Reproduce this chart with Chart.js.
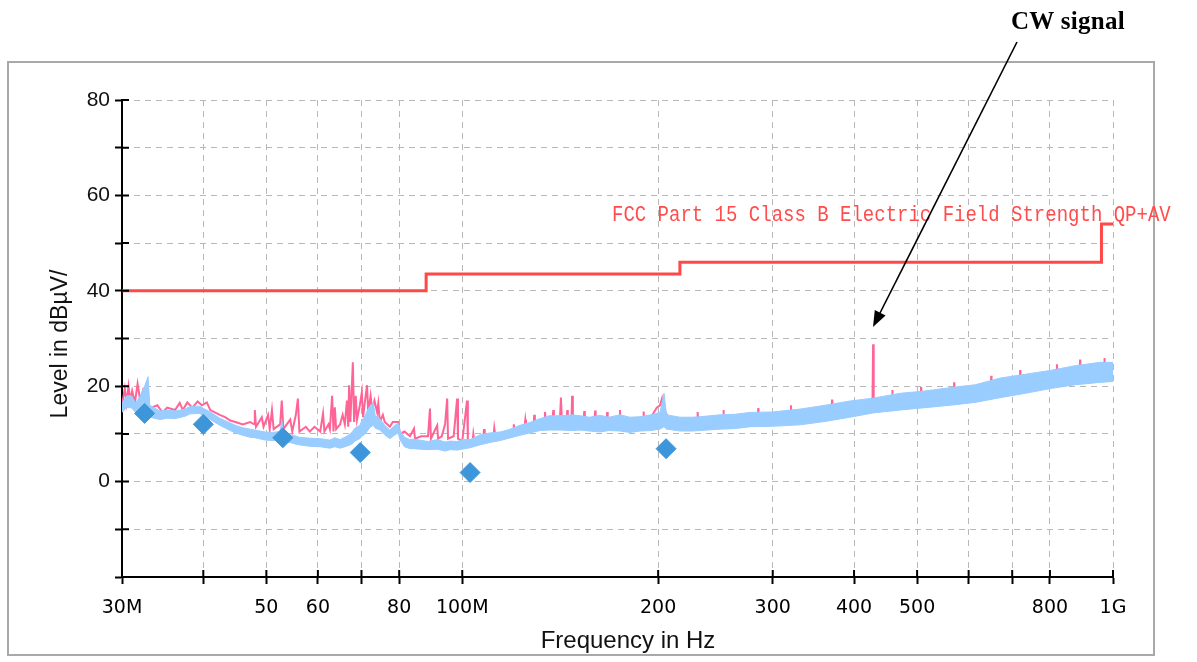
<!DOCTYPE html>
<html>
<head>
<meta charset="utf-8">
<title>Radiated emission scan</title>
<script src="https://cdn.jsdelivr.net/npm/chart.js@4.4.1/dist/chart.umd.min.js"></script>
<style>
  html, body { margin: 0; padding: 0; background: #fff; }
  #wrap { position: relative; width: 1197px; height: 662px; overflow: hidden; }
  #frame { position: absolute; left: 7px; top: 61px; width: 1144px; height: 591px; border: 2px solid #a9a9a9; }
  #scan { position: absolute; left: 0; top: 0; }
  #limitLabel { position: absolute; left: 612px; top: 203px; font: 19px "Liberation Mono", monospace; color: #ff4c4c; white-space: nowrap; transform: scaleY(1.15); transform-origin: left top; }
  #cwLabel { position: absolute; left: 1011px; top: 8px; font: bold 25px "Liberation Serif", serif; letter-spacing: 0.3px; line-height: 25px; color: #000; white-space: nowrap; }
  #arrow { position: absolute; left: 0; top: 0; }
</style>
</head>
<body>
<div id="wrap">
  <div id="frame"></div>
  <canvas id="scan" width="1197" height="662"></canvas>
  <div id="limitLabel">FCC Part 15 Class B Electric Field Strength QP+AV</div>
  <div id="cwLabel">CW signal</div>
  <svg id="arrow" width="1197" height="662">
    <line x1="1017" y1="42" x2="880" y2="313" stroke="#000" stroke-width="1.6"/>
    <polygon points="873,327 885.6,315.4 874.8,310" fill="#000"/>
  </svg>
</div>
<script>
// axis ticks
const xTickValues = [30, 40, 50, 60, 70, 80, 100, 200, 300, 400, 500, 600, 700, 800, 1000];
const xTickLabels = ['30M', '', '50', '60', '', '80', '100M', '200', '300', '400', '500', '', '', '800', '1G'];
const yTickValues = [-20, -10, 0, 10, 20, 30, 40, 50, 60, 70, 80];
const yTickLabels = [0, 20, 40, 60, 80];
const xTitle = 'Frequency in Hz';
const yTitle = 'Level in dBµV/';

// FCC Part 15 class B limit (MHz / dBuV)
const limitFreq = [30, 88, 216, 960, 1000];
const limitLevel = [40, 43.5, 46, 54, 54];

// peak trace (pink): [MHz, dBuV]
const pinkPeak = [
  [30,16],[30.3,19.5],[30.5,16.5],[30.7,20],[30.9,17],[31.1,19],[31.4,16.5],[31.7,20.5],[32,17],[32.3,19],
  [32.6,16],[33.3,15.5],[34,16],[34.6,14.5],[35.2,15.5],[36.2,15],[36.8,16.5],[37.2,15],[37.8,16.6],[38.5,15.5],
  [39.2,16.8],[39.8,16],[40.5,16.6],[41,15],[42.4,14],[43.2,13.5],[44,12.8],[44.8,12.5],[46,12],[47.2,12.5],
  [47.9,12],[48,15],[48.2,11.5],[49.2,13.5],[49.5,11.5],[50.3,14],[50.6,11],[51,15],[51.3,11],[52.5,12],
  [52.8,17],[53.1,11],[54.4,13],[54.8,10.5],[55.5,14],[55.9,17.4],[56.2,10.5],[57.5,11.5],[58.3,10.5],[59.3,11.5],
  [60.5,10.5],[61.1,14.3],[61.4,10.5],[62.3,12],[62.6,11],[63.1,18],[63.4,10.5],[63.7,15.6],[64,11],[64.9,12],
  [65.5,14],[66,12],[66.5,17],[66.8,11.5],[67,20.2],[67.3,12.5],[67.9,25],[68.2,12.5],[68.6,18],[68.9,13],
  [69.6,16],[70.1,18.7],[70.4,13.5],[70.9,17],[71.4,20.2],[71.7,14.5],[72.3,18],[72.7,15],[73.3,17],[74,14.5],
  [74.3,16.4],[74.7,12.5],[75.5,14],[76,12.5],[77.4,11.5],[78.2,12.5],[79.7,12.5],[80.2,10],[81.5,10.5],[83.1,9.5],
  [84.3,11.1],[84.6,9],[86.5,9.5],[88.6,9.5],[89.2,15.3],[89.5,9],[91.5,11.8],[91.8,9],[93,9.5],[94.1,12],
  [94.8,17.4],[95.1,9],[97,9.5],[98.2,17.4],[98.5,9],
  [100,8.5],[101.7,17],[102,8.5],[103.8,8.8],[104,10],[104.3,8.8],[106.5,9.3],[107.8,9.6],[108,11],[108.3,9.6],
  [110.3,9.8],[111.8,10],[112,11.2],[112.3,10],[114.3,10],[118,10.4],[119.7,10.8],[120,12],[120.3,10.9],[122.7,11.3],
  [124.7,11.7],[125,13],[125.3,11.8],[127,11.9],[128.8,12.3],[129,14],[129.3,12.4],[131.7,12.7],[133.7,13.1],[134,14.6],
  [134.3,13.2],[136,13.3],[137.7,13.3],[138,15],[138.3,13.3],[141.3,13.3],[141.8,17.6],[142.2,13.3],[144.7,13.4],[145,15],
  [145.3,13.4],[147.2,13.5],[147.5,18],[147.9,13.5],[151.7,13.3],[153.7,13.2],[154,14.8],[154.3,13.2],[157,13],[159.7,13.1],
  [160,14.9],[160.3,13.2],[162.8,13.4],[166.7,13.2],[167,14.6],[167.3,13.1],[171.7,13.2],[174.4,13.4],[174.7,15],[175,13.4],
  [178,13.3],[181,13],[187.6,13.1],[189.7,13.2],[190,14.7],[190.3,13.2],[195,13.5],[199,15.5],[201.3,16],[202.7,17.4],
  [203.5,15.5],[207,13.6],
  [212,13.2],[216.1,13],[225.5,13],[229.7,13.1],[230,14.6],[230.3,13.1],[249,13.4],[251.7,13.5],[252,15],[252.3,13.5],
  [262,13.5],[276.8,13.9],[284.7,14],[285,15.4],[285.3,14],[300,14],[315,14.4],[319.6,14.6],[320,16],[320.4,14.6],
  [345,15],[360.9,15.4],[369.6,15.7],[370,17.2],[370.4,15.7],[394.5,16.3],[410,16.6],[427,16.9],[427.9,28.8],[428.8,16.9],
  [450,17.5],[457.5,17.7],[458,19.2],[458.5,17.7],[470.6,17.9],[500,18.2],[506.5,18.3],[507,19.8],[507.5,18.3],[540,18.6],
  [561.9,19.1],[569.4,19.2],[570,20.8],[570.6,19.2],[613.9,19.7],[640,20.5],[649.3,20.8],[650,22.2],[650.7,20.9],[700,21.5],
  [719.3,21.8],[720,23.4],[720.7,21.8],[765,22.3],[800.8,22.7],[819.2,22.9],[820,24.6],[820.8,23],[874.6,23.7],[889.1,23.8],
  [890,25.6],[890.9,23.9],[955.3,24.4],[969,24.4],[970,25.9],[971,24.4],[1000,24.4]
];

// average trace (light blue) as a band: upper / lower edge
const blueFreq = [
  30, 30.5, 31, 31.5, 32, 32.5, 32.9, 33.1, 34.3, 35.2,
  36.2, 37.5, 38.2, 39.5, 40.2, 41, 42.4, 44, 44.8, 46,
  47.2, 48, 49.8, 51, 52.5, 52.8, 53.2, 54.4, 55.3, 56.2,
  58.3, 60.5, 62.6, 63.7, 64.9, 66, 67, 67.9, 68.4, 69.6,
  70.1, 70.9, 71.4, 72.1, 73, 73.5, 74.7, 76, 77.4, 78.8,
  79.7, 80.2, 81.5, 83.1, 84.3, 86, 88.6, 91.5, 94.1, 95.8,
  98.2, 100, 102.8, 106.5, 110.3, 114.3, 118, 122.7, 127, 131.7,
  136, 141.3, 147.5, 151.7, 157, 162.8, 168, 174.7, 181, 187.6,
  195, 201.3, 204.2, 206, 216.1, 225.5, 232, 249, 262, 276.8,
  300, 330.4, 360.9, 394.5, 427.9, 470.6, 514.2, 561.9, 613.9, 670.8,
  732.9, 800.8, 874.6, 955.3, 1000
];
const blueHi = [
  16.5, 18, 18, 16.5, 18, 20, 22, 16, 14.8, 15,
  14.8, 15.2, 15.8, 15.8, 15.2, 14.6, 13.3, 12.3, 11.8, 11.3,
  11, 10.8, 10.4, 10.3, 10.5, 12.8, 10.3, 9.8, 9.6, 9.3,
  9.1, 9, 8.7, 9.2, 8.8, 9.3, 9.8, 10.6, 11.2, 11.8,
  12.8, 13.8, 14.8, 15.8, 16.6, 13.8, 13.2, 11.8, 10.8, 11.8,
  12.3, 10.8, 9.3, 8.8, 8.9, 8.7, 8.4, 8.8, 8.3, 8.5,
  8.4, 8.8, 8.8, 9.8, 10.2, 10.4, 10.9, 11.8, 12.4, 13.2,
  13.8, 13.8, 14, 13.8, 13.5, 13.9, 13.5, 14, 13.5, 13.6,
  14, 14.5, 18.5, 14, 13.5, 13.5, 13.6, 14, 14.1, 14.5,
  14.6, 15.2, 16, 16.9, 17.5, 18.5, 19, 19.7, 20.3, 21.7,
  22.5, 23.3, 24.3, 25, 25
];
const blueLo = [
  14.5, 15.5, 15.5, 14.5, 14.5, 15, 14.5, 13.5, 13, 13.3,
  13.2, 13.7, 14.2, 14.3, 13.5, 13, 11.8, 10.7, 10.2, 9.7,
  9.3, 9.2, 8.7, 8.6, 8.7, 8.7, 8.5, 8.2, 7.9, 7.7,
  7.4, 7.3, 7, 7.3, 7, 7.3, 7.6, 8, 8.5, 9,
  9.5, 10, 10.5, 11.3, 11.8, 11.2, 10.8, 9.8, 9, 9.8,
  10.2, 8.8, 7.3, 6.9, 6.9, 6.8, 6.7, 6.8, 6.4, 6.7,
  6.6, 6.8, 7.1, 7.7, 8.2, 8.6, 9.1, 9.7, 10.2, 10.7,
  10.8, 10.8, 10.7, 10.8, 10.6, 10.4, 10.7, 10.6, 10.3, 10.6,
  10.7, 11, 11.5, 11, 10.6, 10.6, 10.7, 11, 11.1, 11.5,
  11.6, 11.9, 12.6, 13.5, 14.4, 15, 15.5, 16, 16.6, 17.6,
  18.5, 19.5, 20.3, 20.8, 21
];

// quasi-peak final measurements (diamonds)
const qpFreq = [32.5, 40.0, 53.0, 69.7, 102.8, 205.7];
const qpLevel = [14.3, 12.0, 9.2, 6.1, 1.9, 6.9];

const toXY = (xs, ys) => xs.map((x, i) => ({ x: x, y: ys[i] }));

// short tick marks on the inside of both axes + axis titles
const axisExtras = {
  id: 'axisExtras',
  afterDatasetsDraw(chart) {
    const { ctx, chartArea, scales } = chart;
    ctx.save();
    ctx.strokeStyle = '#000';
    ctx.lineWidth = 2;
    ctx.beginPath();
    yTickValues.forEach(v => {
      const py = scales.y.getPixelForValue(v);
      ctx.moveTo(chartArea.left, py);
      ctx.lineTo(chartArea.left + 7, py);
    });
    xTickValues.forEach(v => {
      const px = scales.x.getPixelForValue(v);
      ctx.moveTo(px, chartArea.bottom);
      ctx.lineTo(px, chartArea.bottom - 7);
    });
    ctx.stroke();

    ctx.fillStyle = '#111';
    ctx.textAlign = 'center';
    ctx.textBaseline = 'middle';
    ctx.font = '24px "Liberation Sans"';
    ctx.fillText(xTitle, chartArea.left + 506, chartArea.bottom + 64);
    ctx.translate(61, chartArea.top + 244);
    ctx.rotate(-Math.PI / 2);
    ctx.font = '23px "Liberation Sans"';
    ctx.fillText(yTitle, 0, 0);
    ctx.restore();
  }
};

new Chart(document.getElementById('scan'), {
  type: 'line',
  data: {
    datasets: [
      {
        label: 'QP',
        type: 'scatter',
        data: toXY(qpFreq, qpLevel),
        pointStyle: 'rectRot',
        pointRadius: 10,
        backgroundColor: '#3d96da',
        borderColor: '#3d96da',
        borderWidth: 1,
        order: 0
      },
      {
        label: 'Limit',
        data: toXY(limitFreq, limitLevel),
        stepped: 'before',
        borderColor: '#ff4848',
        borderWidth: 3,
        pointRadius: 0,
        fill: false,
        order: 1
      },
      {
        label: 'Average max',
        data: toXY(blueFreq, blueHi),
        borderColor: '#99ccff',
        backgroundColor: '#99ccff',
        borderWidth: 1,
        pointRadius: 0,
        fill: '+1',
        order: 2
      },
      {
        label: 'Average min',
        data: toXY(blueFreq, blueLo),
        borderColor: '#99ccff',
        borderWidth: 1,
        pointRadius: 0,
        fill: false,
        order: 2
      },
      {
        label: 'Peak',
        data: pinkPeak.map(p => ({ x: p[0], y: p[1] })),
        borderColor: '#ff6496',
        borderWidth: 2,
        pointRadius: 0,
        fill: false,
        order: 3
      }
    ]
  },
  options: {
    responsive: false,
    devicePixelRatio: 1,
    animation: false,
    layout: { padding: { top: 100, right: 84, left: 0, bottom: 0 } },
    plugins: {
      legend: { display: false },
      tooltip: { enabled: false }
    },
    elements: { line: { tension: 0 } },
    scales: {
      x: {
        type: 'logarithmic',
        min: 30,
        max: 1000,
        afterBuildTicks: s => { s.ticks = xTickValues.map(v => ({ value: v })); },
        afterFit: s => { s.height = 85; },
        ticks: {
          autoSkip: false,
          maxRotation: 0,
          padding: 13,
          color: '#000',
          font: { family: 'DejaVu Sans', size: 19 },
          callback: v => { const i = xTickValues.indexOf(v); return i >= 0 ? xTickLabels[i] : ''; }
        },
        grid: { color: '#b8b8b8', lineWidth: 1, tickColor: '#000', tickWidth: 2, tickLength: 7 },
        border: { color: '#000', width: 2, dash: [6, 5] }
      },
      y: {
        min: -20,
        max: 80,
        afterBuildTicks: s => { s.ticks = yTickValues.map(v => ({ value: v })); },
        afterFit: s => { s.width = 122; },
        ticks: {
          autoSkip: false,
          padding: 5,
          color: '#111',
          font: { family: 'Liberation Sans', size: 21 },
          callback: v => yTickLabels.includes(v) ? String(v) : ''
        },
        grid: { color: '#b8b8b8', lineWidth: 1, tickColor: '#000', tickWidth: 2, tickLength: 7 },
        border: { color: '#000', width: 2, dash: [6, 5] }
      }
    }
  },
  plugins: [axisExtras]
});
</script>
</body>
</html>
